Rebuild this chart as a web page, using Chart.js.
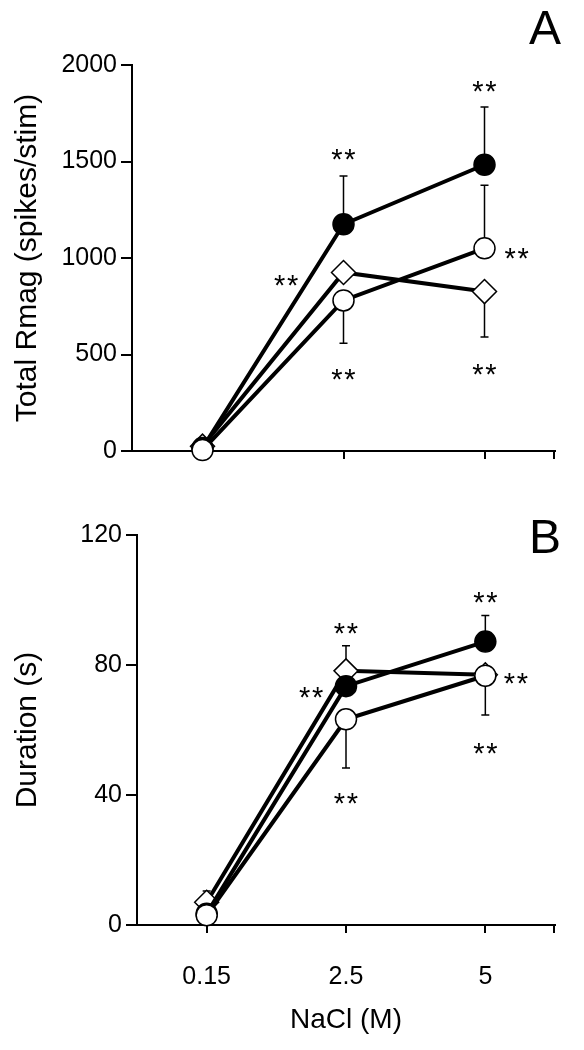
<!DOCTYPE html>
<html>
<head>
<meta charset="utf-8">
<script src="https://cdn.jsdelivr.net/npm/chart.js@4"></script>
<style>
  html, body { margin: 0; padding: 0; background: #fff; }
  .panel { position: relative; width: 584px; }
  #wrapA { height: 490px; }
  #wrapB { height: 560px; }
</style>
</head>
<body>
<div class="panel" id="wrapA"><canvas id="chartA"></canvas></div>
<div class="panel" id="wrapB"><canvas id="chartB"></canvas></div>
<script>
const nacl = ['0.15', '2.5', '5'];

// A: total Rmag (spikes/stim)
const rmagFilled = [15, 1175, 1483];
const rmagOpen = [5, 780, 1050];
const rmagDiamond = [25, 925, 826];
const rmagFilledUp = [null, 250, 300];
const rmagOpenUp = [null, null, 327];
const rmagOpenDown = [null, 222, null];
const rmagDiamondDown = [null, null, 235];
// ** marks, as [category position, value]
const rmagStars = [[1, 1548], [0.594, 896], [1, 411], [2, 1901], [2.228, 1035], [2, 435]];

// B: duration (s)
const durFilled = [3.5, 73.5, 87.2];
const durOpen = [3, 63.3, 76.7];
const durDiamond = [7, 78.2, 77];
const durFilledUp = [null, 12.4, 8];
const durOpenDown = [null, 15, null];
const durDiamondUp = [3.5, null, null];
const durDiamondDown = [null, null, 12.4];
const durStars = [[1, 92], [0.75, 72.3], [1, 39.7], [2, 101.5], [2.22, 76.6], [2, 55]];

const FONT = "'Liberation Sans', Arial, Helvetica, sans-serif";

function drawErrors(chart, sets) {
  const ctx = chart.ctx, xs = chart.scales.x, ys = chart.scales.y;
  ctx.save();
  ctx.strokeStyle = '#000';
  ctx.lineWidth = 1.5;
  sets.forEach(([vals, up, down]) => {
    vals.forEach((v, i) => {
      [[up, 1], [down, -1]].forEach(([arr, dir]) => {
        if (!arr || arr[i] == null) return;
        const px = xs.getPixelForValue(i);
        const y0 = ys.getPixelForValue(v);
        const y1 = ys.getPixelForValue(v + dir * arr[i]);
        ctx.beginPath();
        ctx.moveTo(px, y0); ctx.lineTo(px, y1);
        ctx.moveTo(px - 4, y1); ctx.lineTo(px + 4, y1);
        ctx.stroke();
      });
    });
  });
  ctx.restore();
}

function drawStars(chart, stars) {
  const ctx = chart.ctx, xs = chart.scales.x, ys = chart.scales.y;
  ctx.save();
  ctx.fillStyle = '#000';
  ctx.font = '29px ' + FONT;
  ctx.textAlign = 'center';
  ctx.textBaseline = 'alphabetic';
  stars.forEach(([c, v]) => {
    const px = xs.getPixelForValue(c), py = ys.getPixelForValue(v) + 17;
    ctx.fillText('*', px - 6.5, py);
    ctx.fillText('*', px + 6.5, py);
  });
  ctx.restore();
}

function series(data, style) {
  const base = {
    data: data,
    borderColor: '#000',
    borderWidth: 4,
    pointBorderColor: '#000',
    pointBorderWidth: 1.5,
    tension: 0,
    fill: false,
    clip: false
  };
  if (style === 'filled') Object.assign(base, { pointStyle: 'circle', pointRadius: 10.5, pointBackgroundColor: '#000' });
  if (style === 'open') Object.assign(base, { pointStyle: 'circle', pointRadius: 10.5, pointBackgroundColor: '#fff' });
  if (style === 'diamond') Object.assign(base, { pointStyle: 'rectRot', pointRadius: 12, pointBackgroundColor: '#fff' });
  return base;
}

function makePanel(id, p) {
  const extras = {
    id: 'extras_' + id,
    beforeDatasetsDraw(chart) { drawErrors(chart, p.errors); },
    afterDatasetsDraw(chart) { drawStars(chart, p.stars); },
    afterDraw(chart) {
      const ctx = chart.ctx, a = chart.chartArea;
      ctx.save();
      // end tick at the right of the x axis
      ctx.strokeStyle = '#000';
      ctx.lineWidth = 2;
      ctx.beginPath();
      ctx.moveTo(a.right - 1, a.bottom);
      ctx.lineTo(a.right - 1, a.bottom + 8);
      ctx.stroke();
      // panel letter
      ctx.fillStyle = '#000';
      ctx.font = '48px ' + FONT;
      ctx.textAlign = 'right';
      ctx.textBaseline = 'alphabetic';
      ctx.fillText(p.letter, 561, p.letterY);
      ctx.restore();
    }
  };

  return new Chart(document.getElementById(id), {
    type: 'line',
    data: {
      labels: nacl,
      datasets: [
        series(p.open, 'open'),
        series(p.filled, 'filled'),
        series(p.diamond, 'diamond')
      ]
    },
    options: {
      responsive: true,
      maintainAspectRatio: false,
      animation: false,
      layout: { padding: { top: p.top, right: 29, left: 0, bottom: 0 } },
      plugins: { legend: { display: false }, tooltip: { enabled: false } },
      scales: {
        x: {
          type: 'category',
          offset: true,
          afterFit: (s) => { s.height = p.xHeight; },
          border: { display: true, color: '#000', width: 2 },
          grid: { drawOnChartArea: false, drawTicks: true, tickLength: 8, color: '#000', lineWidth: 2, offset: false },
          ticks: { display: p.showX, color: '#000', padding: 29, maxRotation: 0, font: { size: 25, family: FONT } },
          title: {
            display: p.showX,
            text: 'NaCl (M)',
            color: '#000',
            font: { size: 28, family: FONT },
            padding: { top: 0, bottom: 13 }
          }
        },
        y: {
          min: 0,
          max: p.max,
          afterFit: (s) => { s.width = p.yWidth; },
          border: { display: true, color: '#000', width: 2 },
          grid: { drawOnChartArea: false, drawTicks: true, tickLength: 11, color: '#000', lineWidth: 2 },
          ticks: { stepSize: p.step, color: '#000', padding: 4, font: { size: 25, family: FONT }, callback: (v) => String(v) },
          title: {
            display: true,
            text: p.yTitle,
            color: '#000',
            font: { size: 30, family: FONT },
            padding: { top: 10, bottom: 0 }
          }
        }
      }
    },
    plugins: [extras]
  });
}

makePanel('chartA', {
  filled: rmagFilled, open: rmagOpen, diamond: rmagDiamond,
  errors: [[rmagFilled, rmagFilledUp, null], [rmagOpen, rmagOpenUp, rmagOpenDown], [rmagDiamond, null, rmagDiamondDown]],
  stars: rmagStars,
  max: 2000, step: 500,
  yTitle: 'Total Rmag (spikes/stim)',
  top: 65, yWidth: 132, xHeight: 39, showX: false,
  letter: 'A', letterY: 44
});

makePanel('chartB', {
  filled: durFilled, open: durOpen, diamond: durDiamond,
  errors: [[durFilled, durFilledUp, null], [durOpen, null, durOpenDown], [durDiamond, durDiamondUp, durDiamondDown]],
  stars: durStars,
  max: 120, step: 40,
  yTitle: 'Duration (s)',
  top: 45, yWidth: 137, xHeight: 125, showX: true,
  letter: 'B', letterY: 63
});
</script>
</body>
</html>
